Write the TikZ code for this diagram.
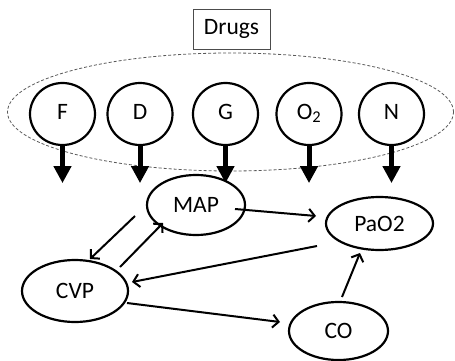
\documentclass[tikz,border=0pt]{standalone}
\usepackage{fontspec}
\setmainfont{Carlito}
\usetikzlibrary{shapes.geometric,arrows.meta,calc}
\begin{document}
\begin{tikzpicture}[x=1pt,y=-1pt,
  font=\fontsize{23.5}{27}\selectfont,
  ell/.style={ellipse,draw,line width=2.2pt,fill=white,inner sep=0pt},
  drug/.style={ell,minimum width=65pt,minimum height=62pt,text height=15pt,text depth=5pt},
  thick arrow/.style={line width=5pt,-{Triangle[length=17pt,width=17pt]}},
  link/.style={line width=2pt,-{Straight Barb[length=6pt,width=13pt,line width=2pt]}},
  group/.style={ellipse,draw=black!65,dash pattern=on 3pt off 2pt,line width=0.8pt,inner sep=0pt}
]
\useasboundingbox (0,0) rectangle (455,361);
\node[draw=black!70,line width=0.9pt,minimum width=77pt,minimum height=40pt,inner sep=0pt] (drugs) at (231.5,29) {Drugs};
\node[group,minimum width=446pt,minimum height=118pt] (grp) at (230.5,112) {};
\node[drug] (F) at (62.5,114) {F};
\node[drug] (D) at (140,114) {D};
\node[drug] (G) at (225.5,114) {G};
\node[drug] (O) at (309,114) {O\textsubscript{2}};
\node[drug] (N) at (391.5,114) {N};
\foreach \n in {F,D,G,O,N}{
  \coordinate (\n e) at ($(\n.south)+(0,37)$);
  \draw[thick arrow] (\n.south) -- (\n e);
}
\node[ell,minimum width=98pt,minimum height=60pt] (MAP) at (196,205) {MAP};
\node[ell,minimum width=107pt,minimum height=53pt] (PaO2) at (379.5,223.5) {PaO2};
\node[ell,minimum width=106pt,minimum height=62pt] (CVP) at (75,291) {CVP};
\node[ell,minimum width=99pt,minimum height=58pt] (CO) at (338.5,331) {CO};
\draw[link] ($(MAP)+(39,4)$) -- ($(PaO2)+(-63.5,-7.5)$);
\draw[link] ($(MAP)+(-61,11)$) -- ($(CVP)+(15,-32)$);
\draw[link] ($(CVP)+(45,-24)$) -- ($(MAP)+(-33,18)$);
\draw[link] ($(PaO2)+(-62.5,22.5)$) -- ($(CVP)+(57,-9)$);
\draw[link] ($(CVP)+(52,12)$) -- ($(CO)+(-58.5,-9)$);
\draw[link] ($(CO)+(3.5,-34)$) -- ($(PaO2)+(-19.5,29.5)$);
\end{tikzpicture}
\end{document}
